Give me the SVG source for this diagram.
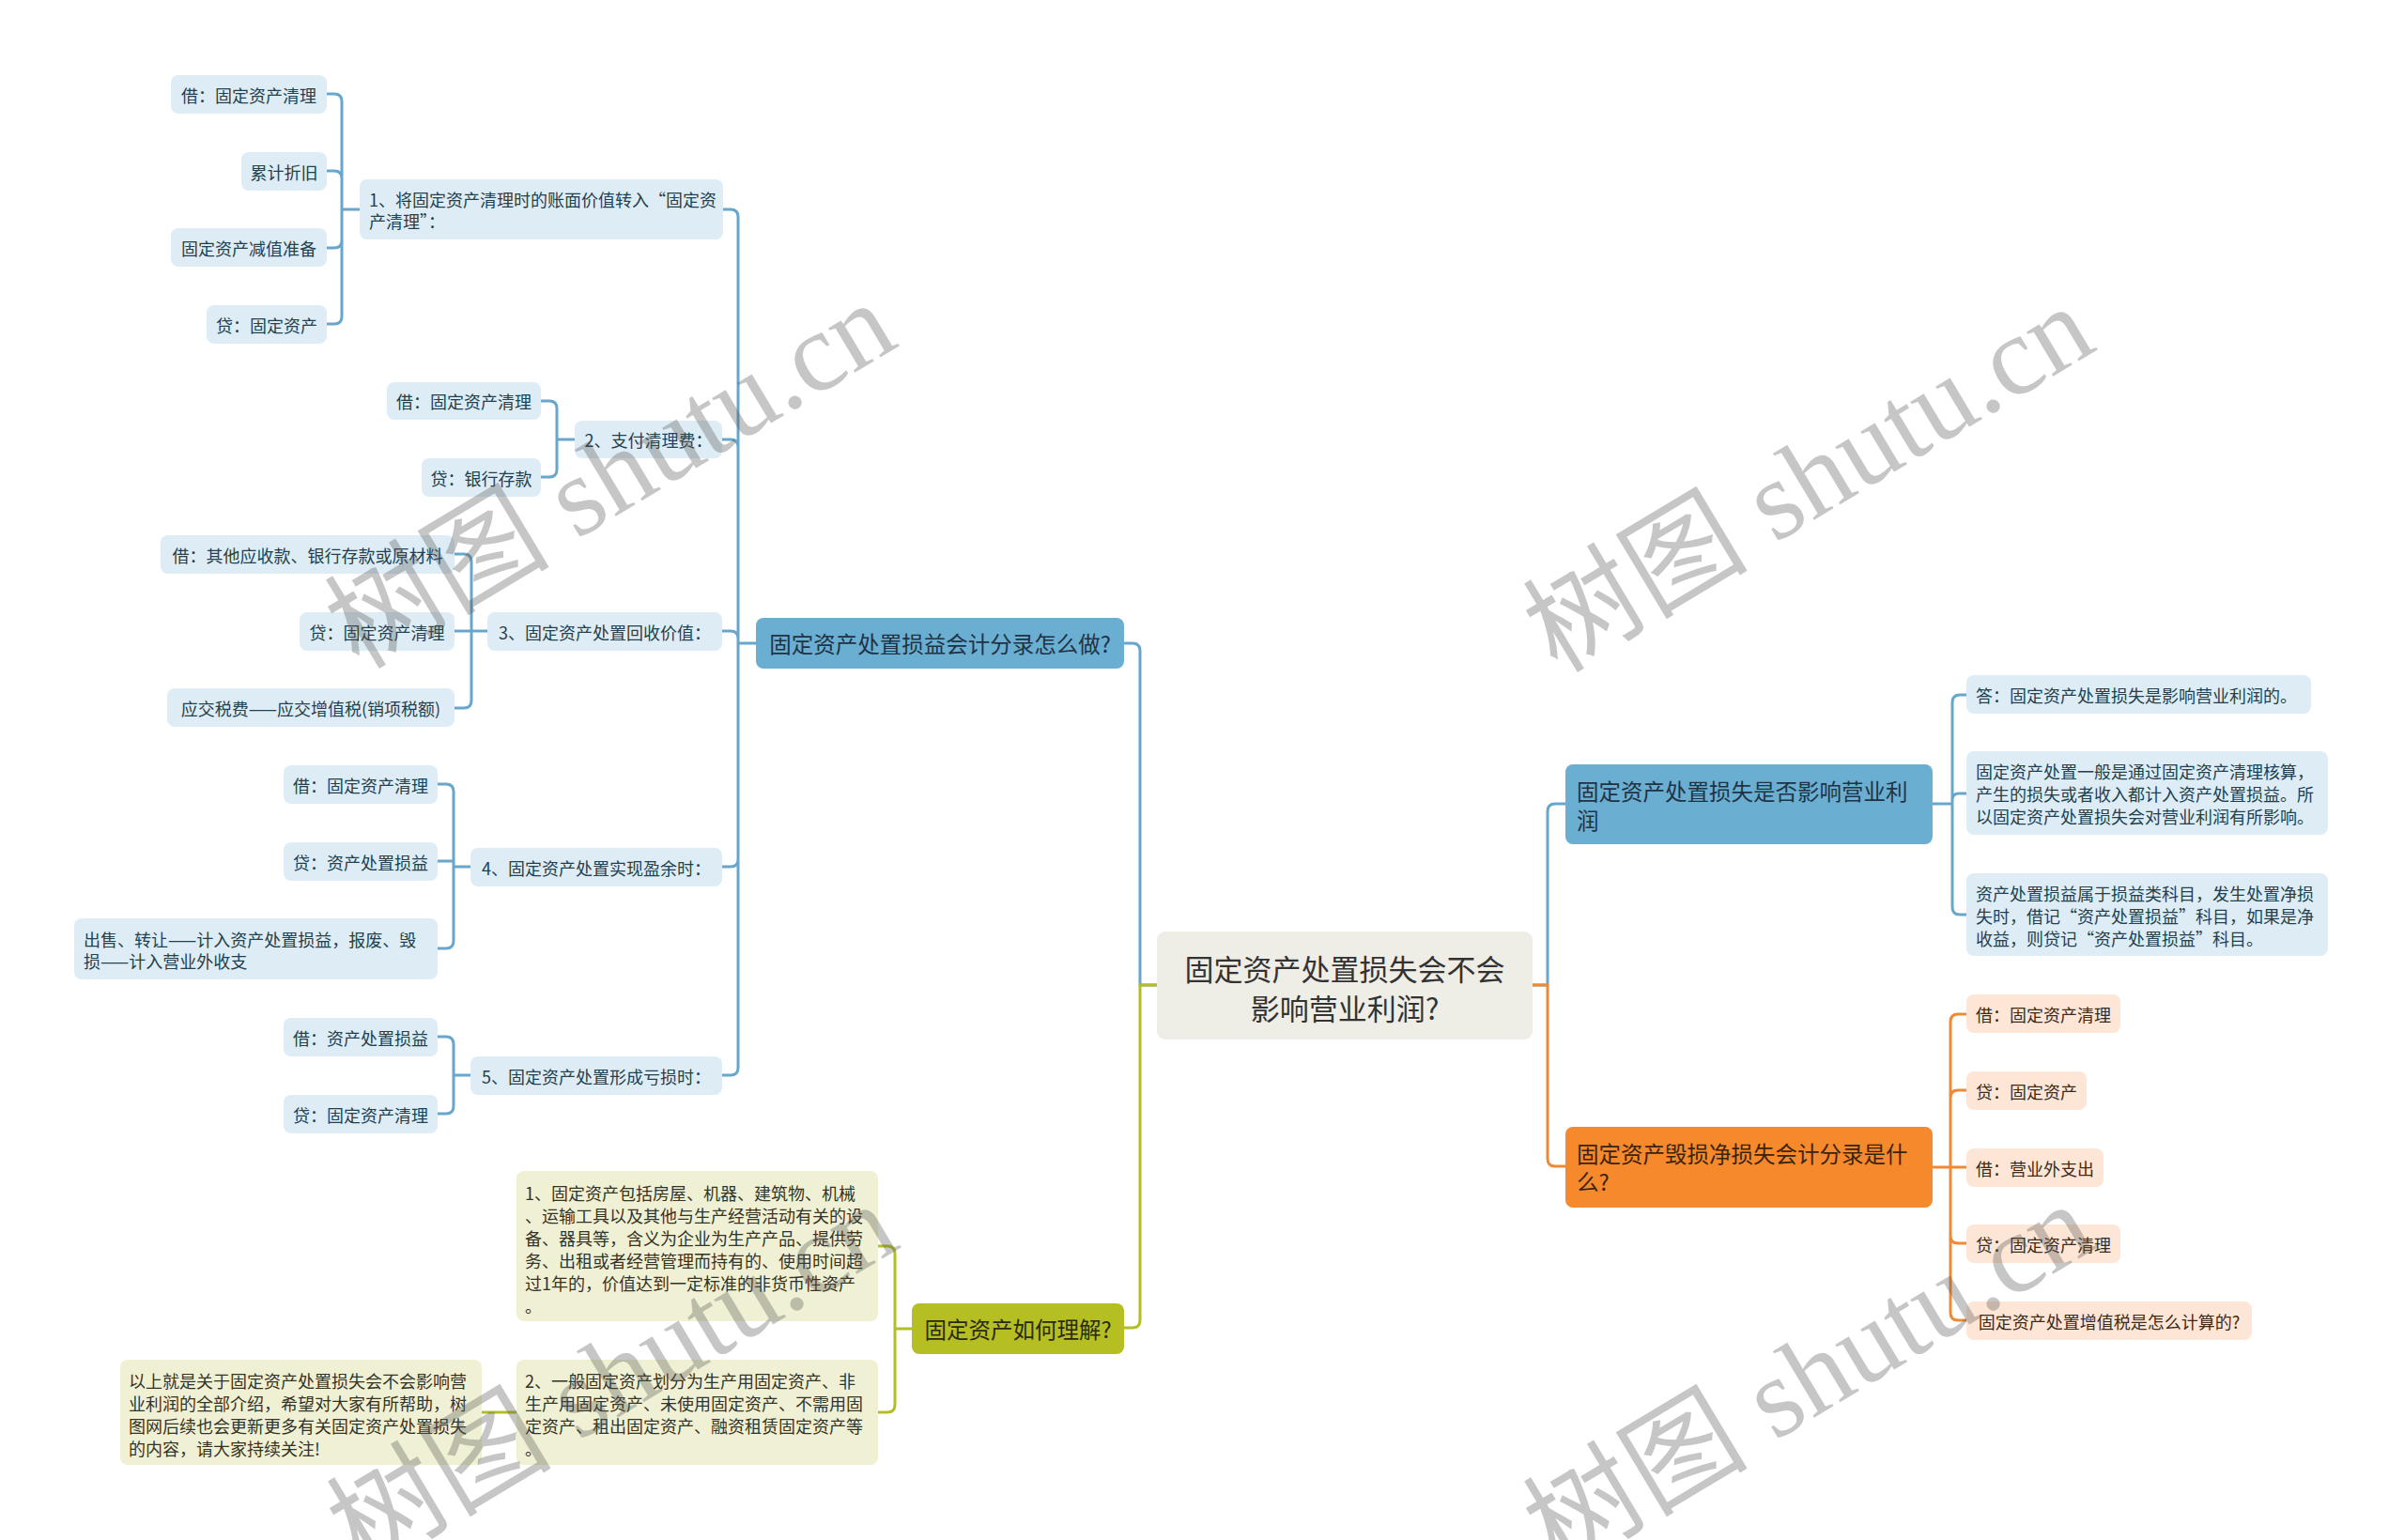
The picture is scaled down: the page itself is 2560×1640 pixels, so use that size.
<svg xmlns="http://www.w3.org/2000/svg" width="2560" height="1640" viewBox="0 0 2560 1640">
<style>
text{font-family:"Noto Sans CJK SC","Noto Sans",sans-serif;dominant-baseline:central}
.bc{fill:#deedf5}.oc{fill:#fde6d6}.yc{fill:#f0f1d4}
.bt{font-size:18px;fill:#23404f}.ot{font-size:18px;fill:#3e2a18}.yt{font-size:18px;fill:#333326}
.m{font-size:23.5px}
.mid{text-anchor:middle}
.cb{fill:none;stroke:#68a7cb;stroke-width:3;stroke-linejoin:round}
.co{fill:none;stroke:#ee8a35;stroke-width:3;stroke-linejoin:round}
.cy{fill:none;stroke:#b3be24;stroke-width:3;stroke-linejoin:round}
.wm{font-family:"Liberation Serif","Noto Sans CJK SC",serif;font-size:120px;fill:#555;opacity:0.33;text-anchor:middle}
</style>
<rect width="2560" height="1640" fill="#ffffff"/>
<g id="connectors">
<path class="cb" d="M1232 1049H1214V693Q1214 685 1206 685H1197"/>
<path class="cb" d="M805 685H786V231Q786 223 778 223H769M805 685H786V476Q786 468 778 468H769M805 685H786V680Q786 672 778 672H769M805 685H786V915Q786 923 778 923H769M805 685H786V1137Q786 1145 778 1145H769"/>
<path class="cb" d="M383 223H364V108Q364 100 356 100H348M383 223H364V190Q364 182 356 182H348M383 223H364V256Q364 264 356 264H348M383 223H364V337Q364 345 356 345H348"/>
<path class="cb" d="M612 468H593V435Q593 427 585 427H576M612 468H593V500Q593 508 585 508H576"/>
<path class="cb" d="M519 672H502V598Q502 590 494 590H484M519 672H484M519 672H502V746Q502 754 494 754H484"/>
<path class="cb" d="M501 923H483V843Q483 835 475 835H466M501 923H483V917H466M501 923H483V1002Q483 1010 475 1010H466"/>
<path class="cb" d="M501 1145H483V1112Q483 1104 475 1104H466M501 1145H483V1178Q483 1186 475 1186H466"/>
<path class="cb" d="M1632 1049H1648V864Q1648 856 1656 856H1667"/>
<path class="cb" d="M2058 856H2079V748Q2079 740 2087 740H2094M2058 856H2079V852Q2079 845 2086 845H2094M2058 856H2079V966Q2079 974 2087 974H2094"/>
<path class="co" d="M1632 1049H1648V1234Q1648 1242 1656 1242H1667"/>
<path class="co" d="M2058 1243H2077V1088Q2077 1080 2085 1080H2094M2058 1243H2077V1169Q2077 1161 2085 1161H2094M2058 1243H2094M2058 1243H2077V1316Q2077 1324 2085 1324H2094M2058 1243H2077V1398Q2077 1406 2085 1406H2094"/>
<path class="cy" d="M1232 1049H1214V1406Q1214 1414 1206 1414H1197"/>
<path class="cy" d="M971 1415H953V1335Q953 1327 945 1327H935M971 1415H953V1496Q953 1504 945 1504H935M550 1504H513"/>
</g>
<g id="root"><rect x="1232" y="992" width="400" height="115" rx="9" fill="#eeede6"/><text class="mid" x="1432" y="1030" font-size="31" fill="#333">固定资产处置损失会不会</text><text class="mid" x="1432" y="1072" font-size="31" fill="#333">影响营业利润?</text></g>
<g id="n-b1"><rect x="805" y="658" width="392" height="54" rx="8" fill="#6aaed2"/><text class="m mid" x="1001" y="685" fill="#1f3345">固定资产处置损益会计分录怎么做?</text></g>
<g id="n-b1-1"><rect class="bc" x="383" y="191" width="387" height="64" rx="8"/><text class="bt" x="393" y="212">1、将固定资产清理时的账面价值转入“固定资</text><text class="bt" x="393" y="235">产清理”：</text></g>
<g id="n-b1-1-1"><rect class="bc" x="182" y="80" width="166" height="41" rx="8"/><text class="bt mid" x="265" y="100.5">借：固定资产清理</text></g>
<g id="n-b1-1-2"><rect class="bc" x="257" y="162" width="91" height="41" rx="8"/><text class="bt mid" x="302.5" y="182.5">累计折旧</text></g>
<g id="n-b1-1-3"><rect class="bc" x="182" y="243" width="166" height="41" rx="8"/><text class="bt mid" x="265" y="263.5">固定资产减值准备</text></g>
<g id="n-b1-1-4"><rect class="bc" x="220" y="325" width="128" height="41" rx="8"/><text class="bt mid" x="284" y="345.5">贷：固定资产</text></g>
<g id="n-b1-2"><rect class="bc" x="612" y="448" width="157" height="40" rx="8"/><text class="bt mid" x="690.5" y="468">2、支付清理费：</text></g>
<g id="n-b1-2-1"><rect class="bc" x="412" y="407" width="164" height="40" rx="8"/><text class="bt mid" x="494" y="427">借：固定资产清理</text></g>
<g id="n-b1-2-2"><rect class="bc" x="449" y="488" width="127" height="41" rx="8"/><text class="bt mid" x="512.5" y="508.5">贷：银行存款</text></g>
<g id="n-b1-3"><rect class="bc" x="519" y="652" width="250" height="41" rx="8"/><text class="bt mid" x="644" y="672.5">3、固定资产处置回收价值：</text></g>
<g id="n-b1-3-1"><rect class="bc" x="171" y="570" width="313" height="41" rx="8"/><text class="bt mid" x="327.5" y="590.5">借：其他应收款、银行存款或原材料</text></g>
<g id="n-b1-3-2"><rect class="bc" x="319" y="652" width="165" height="41" rx="8"/><text class="bt mid" x="401.5" y="672.5">贷：固定资产清理</text></g>
<g id="n-b1-3-3"><rect class="bc" x="178" y="733" width="306" height="41" rx="8"/><text class="bt mid" x="331" y="753.5">应交税费——应交增值税(销项税额)</text></g>
<g id="n-b1-4"><rect class="bc" x="501" y="903" width="268" height="41" rx="8"/><text class="bt mid" x="635" y="923.5">4、固定资产处置实现盈余时：</text></g>
<g id="n-b1-4-1"><rect class="bc" x="302" y="815" width="164" height="41" rx="8"/><text class="bt mid" x="384" y="835.5">借：固定资产清理</text></g>
<g id="n-b1-4-2"><rect class="bc" x="302" y="897" width="164" height="41" rx="8"/><text class="bt mid" x="384" y="917.5">贷：资产处置损益</text></g>
<g id="n-b1-4-3"><rect class="bc" x="79" y="978" width="387" height="65" rx="8"/><text class="bt" x="89" y="1000">出售、转让——计入资产处置损益，报废、毁</text><text class="bt" x="89" y="1023">损——计入营业外收支</text></g>
<g id="n-b1-5"><rect class="bc" x="501" y="1125" width="268" height="41" rx="8"/><text class="bt mid" x="635" y="1145.5">5、固定资产处置形成亏损时：</text></g>
<g id="n-b1-5-1"><rect class="bc" x="302" y="1084" width="164" height="41" rx="8"/><text class="bt mid" x="384" y="1104.5">借：资产处置损益</text></g>
<g id="n-b1-5-2"><rect class="bc" x="302" y="1166" width="164" height="41" rx="8"/><text class="bt mid" x="384" y="1186.5">贷：固定资产清理</text></g>
<g id="n-y1"><rect x="971" y="1388" width="226" height="54" rx="8" fill="#b5bf22"/><text class="m mid" x="1084" y="1415" fill="#2a2a14">固定资产如何理解?</text></g>
<g id="n-y1-1"><rect class="yc" x="550" y="1247" width="385" height="160" rx="8"/><text class="yt" x="559" y="1270">1、固定资产包括房屋、机器、建筑物、机械</text><text class="yt" x="559" y="1294">、运输工具以及其他与生产经营活动有关的设</text><text class="yt" x="559" y="1318">备、器具等，含义为企业为生产产品、提供劳</text><text class="yt" x="559" y="1342">务、出租或者经营管理而持有的、使用时间超</text><text class="yt" x="559" y="1366">过1年的，价值达到一定标准的非货币性资产</text><text class="yt" x="559" y="1390">。</text></g>
<g id="n-y1-2"><rect class="yc" x="550" y="1448" width="385" height="112" rx="8"/><text class="yt" x="559" y="1470">2、一般固定资产划分为生产用固定资产、非</text><text class="yt" x="559" y="1494">生产用固定资产、未使用固定资产、不需用固</text><text class="yt" x="559" y="1518">定资产、租出固定资产、融资租赁固定资产等</text><text class="yt" x="559" y="1542">。</text></g>
<g id="n-y1-2-1"><rect class="yc" x="128" y="1448" width="385" height="112" rx="8"/><text class="yt" x="137" y="1470">以上就是关于固定资产处置损失会不会影响营</text><text class="yt" x="137" y="1494">业利润的全部介绍，希望对大家有所帮助，树</text><text class="yt" x="137" y="1518">图网后续也会更新更多有关固定资产处置损失</text><text class="yt" x="137" y="1542">的内容，请大家持续关注!</text></g>
<g id="n-r1"><rect x="1667" y="814" width="391" height="85" rx="8" fill="#6aaed2"/><text class="m" x="1679" y="842" fill="#1f3345">固定资产处置损失是否影响营业利</text><text class="m" x="1679" y="873" fill="#1f3345">润</text></g>
<g id="n-r1-1"><rect class="bc" x="2094" y="719" width="367" height="41" rx="8"/><text class="bt" x="2104" y="739.5">答：固定资产处置损失是影响营业利润的。</text></g>
<g id="n-r1-2"><rect class="bc" x="2094" y="800" width="385" height="89" rx="8"/><text class="bt" x="2104" y="821">固定资产处置一般是通过固定资产清理核算，</text><text class="bt" x="2104" y="845">产生的损失或者收入都计入资产处置损益。所</text><text class="bt" x="2104" y="869">以固定资产处置损失会对营业利润有所影响。</text></g>
<g id="n-r1-3"><rect class="bc" x="2094" y="930" width="385" height="88" rx="8"/><text class="bt" x="2104" y="951">资产处置损益属于损益类科目，发生处置净损</text><text class="bt" x="2104" y="975">失时，借记“资产处置损益”科目，如果是净</text><text class="bt" x="2104" y="999">收益，则贷记“资产处置损益”科目。</text></g>
<g id="n-r2"><rect x="1667" y="1200" width="391" height="86" rx="8" fill="#f5892b"/><text class="m" x="1679" y="1228" fill="#3a2410">固定资产毁损净损失会计分录是什</text><text class="m" x="1679" y="1258" fill="#3a2410">么?</text></g>
<g id="n-r2-1"><rect class="oc" x="2094" y="1059" width="164" height="41" rx="8"/><text class="ot mid" x="2176" y="1079.5">借：固定资产清理</text></g>
<g id="n-r2-2"><rect class="oc" x="2094" y="1141" width="128" height="41" rx="8"/><text class="ot mid" x="2158" y="1161.5">贷：固定资产</text></g>
<g id="n-r2-3"><rect class="oc" x="2094" y="1223" width="146" height="41" rx="8"/><text class="ot mid" x="2167" y="1243.5">借：营业外支出</text></g>
<g id="n-r2-4"><rect class="oc" x="2094" y="1304" width="164" height="41" rx="8"/><text class="ot mid" x="2176" y="1324.5">贷：固定资产清理</text></g>
<g id="n-r2-5"><rect class="oc" x="2094" y="1386" width="304" height="41" rx="8"/><text class="ot mid" x="2246" y="1406.5">固定资产处置增值税是怎么计算的?</text></g>
<g id="watermark">
<text class="wm" transform="translate(650 506) rotate(-31)">树图 shutu.cn</text>
<text class="wm" transform="translate(1926 510) rotate(-31)">树图 shutu.cn</text>
<text class="wm" transform="translate(652 1466) rotate(-31)">树图 shutu.cn</text>
<text class="wm" transform="translate(1926 1466) rotate(-31)">树图 shutu.cn</text>
</g>
</svg>
